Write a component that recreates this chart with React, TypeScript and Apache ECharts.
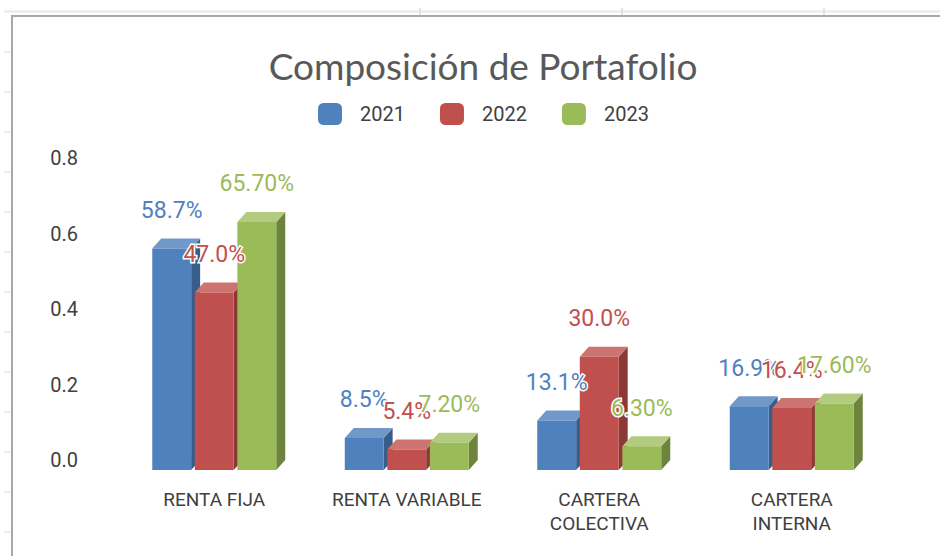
import React, { useEffect, useRef } from "react";
import * as echarts from "echarts";

const categories = ["RENTA FIJA", "RENTA VARIABLE", "CARTERA\nCOLECTIVA", "CARTERA\nINTERNA"];
const years = ["2021", "2022", "2023"];
const values2021 = [0.587, 0.085, 0.131, 0.169];
const values2022 = [0.47, 0.054, 0.3, 0.164];
const values2023 = [0.657, 0.072, 0.063, 0.176];
const labelDecimals = [1, 1, 2];
const yTicks = { min: 0, max: 0.8, interval: 0.2 };

const seriesValues = [values2021, values2022, values2023];
const palette = [
  { front: "#4f81bd", side: "#385d8a", top: "#7098c9" },
  { front: "#c0504d", side: "#8c3836", top: "#cd7471" },
  { front: "#9bbb59", side: "#6d843c", top: "#b2cb7f" },
];

const DX = 9;
const DY = 10;

export default function App() {
  const ref = useRef<HTMLDivElement>(null);
  useEffect(() => {
    if (!ref.current) return;
    const chart = echarts.init(ref.current, null, { renderer: "svg" });

    const series = seriesValues.map((vals, si) => ({
      type: "custom",
      name: years[si],
      itemStyle: { color: palette[si].front },
      encode: { x: 0, y: 1 },
      data: vals.map((v, i) => [i, v]),
      renderItem: (params: any, api: any) => {
        const cat = api.value(0);
        const v = api.value(1);
        const top = api.coord([cat, v]);
        const base = api.coord([cat, 0]);
        const band = api.size([1, 0])[0];
        const w = band * 0.202;
        const cx = top[0] + (si - 1) * band * 0.221;
        const x0 = cx - w / 2;
        const x1 = cx + w / 2;
        const yTB = top[1];
        const yBB = base[1];
        const yTF = yTB + DY;
        const yBF = yBB + DY;
        const c = palette[si];
        const txt = (v * 100).toFixed(labelDecimals[si]) + "%";
        return {
          type: "group",
          children: [
            {
              type: "polygon",
              shape: { points: [[x1, yTF], [x1 + DX, yTB], [x1 + DX, yBB], [x1, yBF]] },
              style: { fill: c.side },
            },
            {
              type: "polygon",
              shape: { points: [[x0, yTF], [x0 + DX, yTB], [x1 + DX, yTB], [x1, yTF]] },
              style: { fill: c.top },
            },
            {
              type: "rect",
              shape: { x: x0, y: yTF, width: w, height: yBF - yTF },
              style: { fill: c.front },
            },
            {
              type: "text",
              x: cx,
              y: yTB - 28,
              z2: 100 + si,
              style: {
                text: txt,
                fill: c.front,
                stroke: "#ffffff",
                lineWidth: 3,
                font: "23px Roboto",
                align: "center",
                verticalAlign: "middle",
              },
            },
          ],
        };
      },
    }));

    const leftTicks = [];
    for (let k = 0; k <= 12; k++) {
      leftTicks.push({
        type: "line",
        shape: { x1: 4, y1: 52 + 40 * k, x2: 10, y2: 52 + 40 * k },
        style: { stroke: "#d9d9d9", lineWidth: 1 },
      });
    }
    const topTicks = [420, 622, 824].map((x) => ({
      type: "line",
      shape: { x1: x, y1: 8, x2: x, y2: 15 },
      style: { stroke: "#dcdcdc", lineWidth: 1.5 },
    }));

    chart.setOption({
      animation: false,
      backgroundColor: "#ffffff",
      grid: { left: 118, right: 52, top: 158, bottom: 96 },
      legend: {
        data: years,
        left: 318,
        top: 103,
        padding: 0,
        itemWidth: 24,
        itemHeight: 22,
        itemGap: 35,
        icon: "roundRect",
        textStyle: { fontFamily: "Roboto", fontSize: 20, color: "#404040", padding: [0, 0, 0, 13] },
      },
      xAxis: {
        type: "category",
        data: categories,
        axisLine: { show: false },
        axisTick: { show: false },
        axisLabel: { fontFamily: "Roboto", fontSize: 19, color: "#404040", margin: 27, lineHeight: 24, interval: 0 },
      },
      yAxis: {
        type: "value",
        min: yTicks.min,
        max: yTicks.max,
        interval: yTicks.interval,
        splitLine: { show: false },
        axisLine: { show: false },
        axisTick: { show: false },
        axisLabel: {
          fontFamily: "Roboto",
          fontSize: 20,
          color: "#404040",
          margin: 40,
          formatter: (v: number) => v.toFixed(1),
        },
      },
      graphic: [
        {
          type: "line",
          shape: { x1: 4, y1: 11.5, x2: 940, y2: 11.5 },
          style: { stroke: "#e8e8e8", lineWidth: 2 },
        },
        {
          type: "line",
          shape: { x1: 11, y1: 16, x2: 940, y2: 16 },
          style: { stroke: "#a8a8a8", lineWidth: 2 },
        },
        {
          type: "line",
          shape: { x1: 12, y1: 15, x2: 12, y2: 556 },
          style: { stroke: "#a8a8a8", lineWidth: 2 },
        },
        ...leftTicks,
        ...topTicks,
        {
          type: "text",
          x: 483,
          y: 65,
          style: {
            text: "Composición de Portafolio",
            fill: "#595959",
            font: "37px Lato",
            align: "center",
            verticalAlign: "middle",
          },
        },
      ],
      series,
    });
    return () => chart.dispose();
  }, []);
  return <div ref={ref} style={{ position: "fixed", left: 0, top: 0, width: 940, height: 556 }} />;
}
